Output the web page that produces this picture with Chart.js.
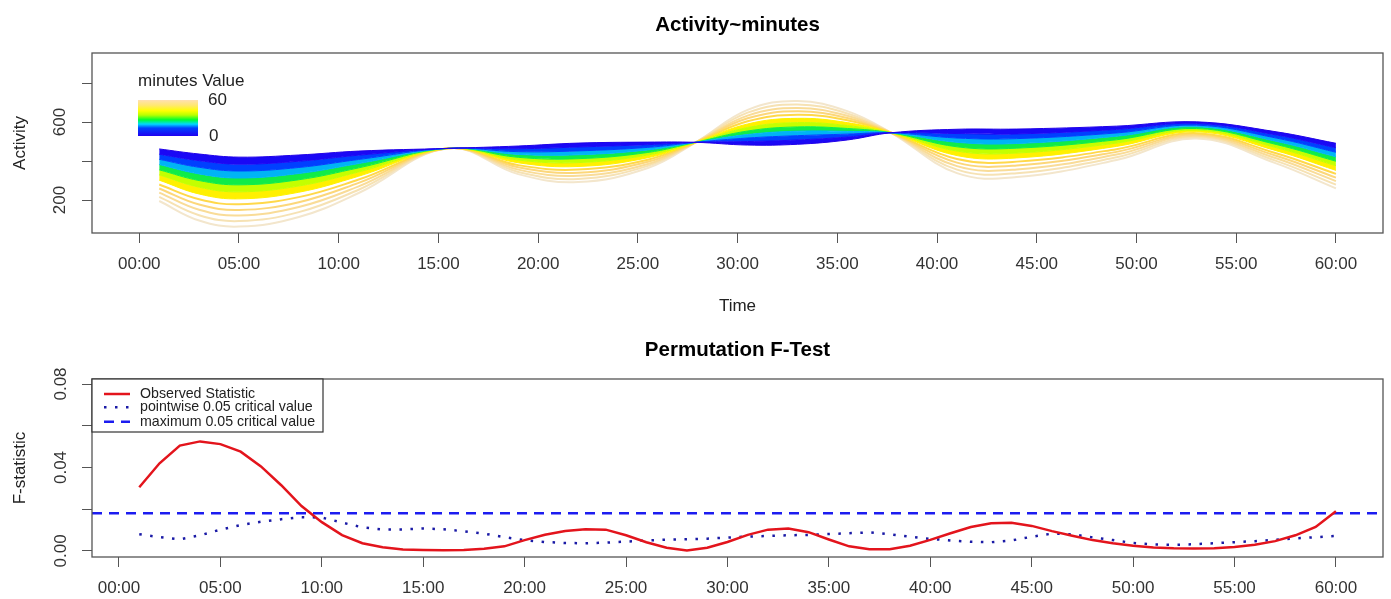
<!DOCTYPE html>
<html>
<head>
<meta charset="utf-8">
<title>Activity~minutes</title>
<script src="https://cdn.jsdelivr.net/npm/chart.js@4.4.1/dist/chart.umd.min.js"></script>
<style>
  html, body { margin: 0; padding: 0; background: #fff; }
  #wrap { position: relative; width: 1391px; height: 599px; }
  canvas { position: absolute; left: 0; }
  #activityChart { top: 0; }
  #ftestChart { top: 320px; }
</style>
</head>
<body>
<div id="wrap">
  <canvas id="activityChart" width="1391" height="320"></canvas>
  <canvas id="ftestChart" width="1391" height="279"></canvas>
</div>
<script>
// ---- top panel: fitted activity curves for several minutes values ----
const timeKnots = [1, 3, 5, 8, 11, 15.5, 19, 22, 25.5, 27.9, 30.5, 33, 35.5, 37.7, 41, 44, 49, 53, 57, 60];

// one row per curve, from minutes value 0 (blue) up to 60 (wheat)
const curveMinutes = [0, 6, 12, 18, 24, 30, 36, 41, 46, 50, 55, 60];
const activityCurves = [
  [462, 436, 420, 431, 451, 465, 477, 492, 497, 496, 482, 486, 508, 545, 563, 564, 579, 601, 550, 491],
  [435, 402, 384, 399, 430, 465, 463, 472, 484, 496, 500, 508, 523, 545, 541, 539, 562, 593, 534, 468],
  [409, 368, 349, 367, 408, 465, 448, 452, 470, 496, 518, 530, 538, 545, 518, 515, 544, 584, 518, 445],
  [382, 334, 313, 336, 387, 465, 434, 432, 457, 496, 536, 553, 552, 545, 496, 490, 527, 576, 501, 422],
  [355, 300, 278, 304, 365, 465, 419, 412, 444, 496, 554, 575, 567, 545, 473, 466, 509, 567, 485, 399],
  [329, 266, 242, 272, 344, 465, 405, 392, 431, 496, 572, 597, 582, 545, 451, 441, 492, 559, 469, 376],
  [302, 231, 206, 240, 322, 465, 391, 372, 417, 496, 590, 619, 597, 545, 428, 416, 475, 550, 453, 352],
  [280, 204, 178, 215, 305, 465, 379, 356, 407, 496, 604, 637, 609, 545, 410, 397, 461, 543, 440, 334],
  [259, 177, 149, 189, 288, 465, 368, 340, 396, 496, 619, 655, 621, 545, 392, 377, 447, 536, 427, 315],
  [238, 150, 121, 164, 270, 465, 356, 324, 385, 496, 633, 672, 632, 545, 374, 357, 433, 530, 414, 297],
  [216, 122, 92, 138, 253, 465, 344, 308, 375, 496, 648, 690, 644, 545, 356, 338, 419, 523, 401, 279],
  [195, 95, 64, 113, 236, 465, 333, 292, 364, 496, 662, 708, 656, 545, 338, 318, 405, 516, 388, 260]
];
// colour of each curve; curves 1..6 also fill the gap to the previous one
const curveColors = ['#2000e8', '#1a08f5', '#0040ff', '#00b4f5', '#10ec48', '#c4ff00',
                     '#fff000', '#ffd84a', '#fcd77a', '#f9dc98', '#f6e2b4', '#f3e6cc'];
const filledCurves = 7;

const activityTicks = [200, 400, 600, 800];
const activityLabels = ['200', '', '600', ''];

// ---- bottom panel: permutation F-test ----
const testMinutes = [1, 2, 3, 4, 5, 6, 7, 8, 9, 10, 11, 12, 13, 14, 15, 16, 17, 18, 19, 20,
  21, 22, 23, 24, 25, 26, 27, 28, 29, 30, 31, 32, 33, 34, 35, 36, 37, 38, 39, 40,
  41, 42, 43, 44, 45, 46, 47, 48, 49, 50, 51, 52, 53, 54, 55, 56, 57, 58, 59, 60];
const observedStat = [0.0305, 0.0420, 0.0505, 0.0525, 0.0512, 0.0476, 0.0405, 0.0315, 0.0215, 0.0138,
  0.0076, 0.0037, 0.0018, 0.0007, 0.0004, 0.0003, 0.0004, 0.0010, 0.0022, 0.0052,
  0.0078, 0.0096, 0.0104, 0.0102, 0.0075, 0.0042, 0.0015, 0.0002, 0.0015, 0.0043,
  0.0077, 0.0102, 0.0108, 0.0090, 0.0055, 0.0022, 0.0008, 0.0008, 0.0025, 0.0053,
  0.0085, 0.0115, 0.0133, 0.0135, 0.0120, 0.0095, 0.0073, 0.0052, 0.0037, 0.0025,
  0.0017, 0.0013, 0.0012, 0.0013, 0.0019, 0.0030, 0.0047, 0.0075, 0.0115, 0.0190];
const pointwiseCrit = [0.0080, 0.0066, 0.0056, 0.0075, 0.0102, 0.0124, 0.0140, 0.0152, 0.0162, 0.0160,
  0.0136, 0.0113, 0.0103, 0.0103, 0.0108, 0.0104, 0.0094, 0.0083, 0.0066, 0.0052,
  0.0043, 0.0038, 0.0037, 0.0040, 0.0045, 0.0050, 0.0054, 0.0056, 0.0059, 0.0064,
  0.0069, 0.0072, 0.0075, 0.0077, 0.0081, 0.0085, 0.0089, 0.0080, 0.0068, 0.0058,
  0.0050, 0.0044, 0.0042, 0.0050, 0.0068, 0.0083, 0.0080, 0.0065, 0.0052, 0.0038,
  0.0031, 0.0029, 0.0032, 0.0037, 0.0042, 0.0047, 0.0053, 0.0060, 0.0066, 0.0072];
const maxCrit = 0.0181;

const fTicks = [0, 0.02, 0.04, 0.06, 0.08];
const fLabels = ['0.00', '', '0.04', '', '0.08'];

// shared time axis
const timeTicks = [0, 5, 10, 15, 20, 25, 30, 35, 40, 45, 50, 55, 60];
const timeLabels = ['00:00', '05:00', '10:00', '15:00', '20:00', '25:00', '30:00',
                    '35:00', '40:00', '45:00', '50:00', '55:00', '60:00'];

// axis ranges (as R laid them out)
const topX = [-2.37, 62.36], topY = [31, 954];
const botX = [-1.33, 62.32], botY = [-0.0029, 0.0824];

Chart.defaults.font.family = "'Liberation Sans', Arial, sans-serif";
const tickFont = { size: 17 };
const tickColor = '#333';
const axisColor = '#555';

const boxPlugin = {
  id: 'box',
  afterDraw(chart) {
    const a = chart.chartArea, ctx = chart.ctx;
    ctx.save();
    ctx.strokeStyle = axisColor;
    ctx.lineWidth = 1.3;
    ctx.strokeRect(a.left, a.top, a.right - a.left, a.bottom - a.top);
    ctx.restore();
  }
};

function timeAxis(range) {
  return {
    type: 'linear', position: 'bottom', min: range[0], max: range[1],
    afterFit: s => { s.height = s.chart.height - (s.chart.id === 0 ? 233 : 237); },
    afterBuildTicks: s => { s.ticks = timeTicks.map(v => ({ value: v })); },
    grid: { drawOnChartArea: false, tickLength: 10, color: axisColor, lineWidth: 1 },
    border: { display: false },
    ticks: { autoSkip: false, maxRotation: 0, padding: 11, font: tickFont, color: tickColor,
             callback: v => timeLabels[timeTicks.indexOf(v)] }
  };
}

function valueAxis(range, ticks, labels, pad, title) {
  return {
    min: range[0], max: range[1],
    afterFit: s => { s.width = 92; },
    afterBuildTicks: s => { s.ticks = ticks.map(v => ({ value: v })); },
    grid: { drawOnChartArea: false, tickLength: 10, color: axisColor, lineWidth: 1 },
    border: { display: false },
    ticks: { autoSkip: false, minRotation: 90, maxRotation: 90, crossAlign: 'center',
             padding: pad, font: tickFont, color: tickColor,
             callback: v => labels[ticks.indexOf(v)] },
    title: { display: true, text: title, font: { size: 17 }, color: '#222', padding: { top: 10 } }
  };
}

// colour bar legend of the top panel
const colorBar = {
  id: 'colorBar',
  afterDraw(chart) {
    const ctx = chart.ctx;
    ctx.save();
    ctx.font = "17px 'Liberation Sans', Arial, sans-serif";
    ctx.fillStyle = '#222';
    ctx.textBaseline = 'middle';
    ctx.textAlign = 'left';
    ctx.fillText('minutes Value', 138, 81);
    const g = ctx.createLinearGradient(0, 100, 0, 136);
    g.addColorStop(0, '#ffe0b3');
    g.addColorStop(0.15, '#ffe870');
    g.addColorStop(0.3, '#ffff00');
    g.addColorStop(0.42, '#b8ff00');
    g.addColorStop(0.55, '#00ff30');
    g.addColorStop(0.67, '#00d8ff');
    g.addColorStop(0.78, '#0040ff');
    g.addColorStop(1, '#2000f0');
    ctx.fillStyle = g;
    ctx.fillRect(138, 100, 60, 36);
    ctx.fillStyle = '#222';
    ctx.fillText(String(curveMinutes[curveMinutes.length - 1]), 208, 100);
    ctx.fillText(String(curveMinutes[0]), 209, 136);
    ctx.restore();
  }
};

const activitySets = activityCurves.map((row, i) => ({
  label: 'minutes ' + curveMinutes[i],
  data: row.map((v, j) => ({ x: timeKnots[j], y: v })),
  borderColor: curveColors[i],
  backgroundColor: curveColors[i],
  borderWidth: i < filledCurves ? 1 : 2,
  fill: i > 0 && i < filledCurves ? '-1' : false,
  tension: 0.4,
  pointRadius: 0
}));

new Chart(document.getElementById('activityChart'), {
  type: 'line',
  data: { datasets: activitySets },
  options: {
    responsive: false, animation: false, events: [],
    layout: { padding: { left: 0, right: 8, top: 0, bottom: 0 } },
    plugins: {
      legend: { display: false }, tooltip: { enabled: false },
      title: { display: true, text: 'Activity~minutes', fullSize: false, color: '#000',
               font: { size: 20.5, weight: 'bold' }, padding: { top: 13, bottom: 15.4 } }
    },
    scales: {
      x: Object.assign(timeAxis(topX), {
        title: { display: true, text: 'Time', font: { size: 17 }, color: '#222', padding: { bottom: 3 } }
      }),
      y: valueAxis(topY, activityTicks, activityLabels, 8, 'Activity')
    }
  },
  plugins: [boxPlugin, colorBar]
});

// legend box of the bottom panel
const testLegend = {
  id: 'testLegend',
  afterDraw(chart) {
    const a = chart.chartArea, ctx = chart.ctx;
    ctx.save();
    ctx.fillStyle = '#fff';
    ctx.fillRect(a.left, a.top, 231, 53);
    ctx.strokeStyle = '#333';
    ctx.lineWidth = 1.2;
    ctx.strokeRect(a.left, a.top, 231, 53);
    ctx.font = "14.2px 'Liberation Sans', Arial, sans-serif";
    ctx.textBaseline = 'middle';
    const rows = [15, 28.3, 42.7];
    chart.data.datasets.forEach((ds, i) => {
      const y = a.top + rows[i];
      ctx.beginPath();
      ctx.strokeStyle = ds.borderColor;
      ctx.lineWidth = ds.borderWidth;
      ctx.setLineDash(ds.borderDash || []);
      ctx.moveTo(a.left + 12, y);
      ctx.lineTo(a.left + 38, y);
      ctx.stroke();
      ctx.setLineDash([]);
      ctx.fillStyle = '#222';
      ctx.fillText(ds.label, a.left + 48, y);
    });
    ctx.restore();
  }
};

new Chart(document.getElementById('ftestChart'), {
  type: 'line',
  data: {
    datasets: [
      { label: 'Observed Statistic',
        data: observedStat.map((v, i) => ({ x: testMinutes[i], y: v })),
        borderColor: '#e3141c', borderWidth: 2.5, pointRadius: 0, tension: 0 },
      { label: 'pointwise 0.05 critical value',
        data: pointwiseCrit.map((v, i) => ({ x: testMinutes[i], y: v })),
        borderColor: '#1a1aa6', borderWidth: 2.5, borderDash: [2.5, 8.5], pointRadius: 0, tension: 0 },
      { label: 'maximum 0.05 critical value',
        data: [{ x: botX[0], y: maxCrit }, { x: botX[1], y: maxCrit }],
        borderColor: '#1c1cf0', borderWidth: 2.5, borderDash: [10, 7], pointRadius: 0 }
    ]
  },
  options: {
    responsive: false, animation: false, events: [],
    layout: { padding: { left: 0, right: 8, top: 0, bottom: 0 } },
    plugins: {
      legend: { display: false }, tooltip: { enabled: false },
      title: { display: true, text: 'Permutation F-Test', fullSize: false, color: '#000',
               font: { size: 20.5, weight: 'bold' }, padding: { top: 17.7, bottom: 16.7 } }
    },
    scales: {
      x: timeAxis(botX),
      y: valueAxis(botY, fTicks, fLabels, 4.5, 'F-statistic')
    }
  },
  plugins: [boxPlugin, testLegend]
});
</script>
</body>
</html>
